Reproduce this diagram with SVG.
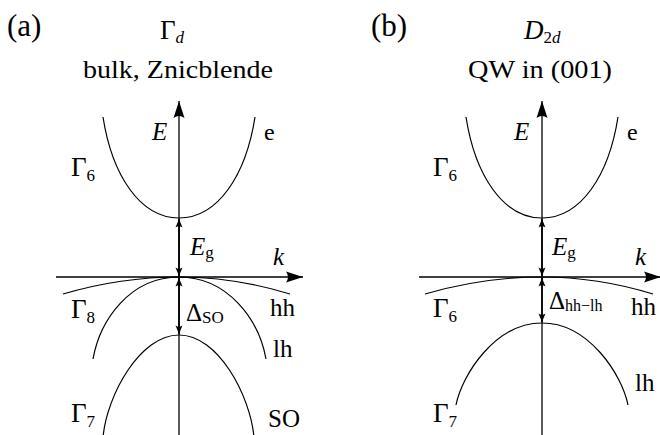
<svg xmlns="http://www.w3.org/2000/svg" width="660" height="435" viewBox="0 0 660 435" font-family="'Liberation Serif', 'Times New Roman', serif">
<style>
.ax{stroke:#000;stroke-width:1.3;fill:none}
.c{stroke:#000;stroke-width:1.2;fill:none}
.d{stroke:#000;stroke-width:1.7;fill:none}
</style>
<defs>
<marker id="big" viewBox="-18 -6 19 12" refX="0" refY="0" markerWidth="19" markerHeight="12" markerUnits="userSpaceOnUse" orient="auto">
<path d="M0,0 L-17,-5.5 Q-13,0 -17,5.5 Z" fill="#000"/>
</marker>
<marker id="sm" viewBox="-9 -4 10 8" refX="0" refY="0" markerWidth="10" markerHeight="8" markerUnits="userSpaceOnUse" orient="auto-start-reverse">
<path d="M0,0 L-8.5,-3.5 Q-6,0 -8.5,3.5 Z" fill="#000"/>
</marker>
</defs>

<g id="panel-a" font-family="'Liberation Serif', 'Times New Roman', serif" fill="#000">
<text font-size="31" x="7" y="36">(a)</text>
<text font-size="27" x="160" y="39">Γ<tspan font-size="17" font-style="italic" dy="4">d</tspan></text>
<text font-size="26" x="83" y="78" textLength="190" lengthAdjust="spacingAndGlyphs">bulk, Znicblende</text>
<g id="bands-a">
<path class="c" d="M103,117 C112,175 140,218 179,218 C218,218 246,175 255,117"/>
<path class="c" d="M63,294 Q121,277 179,277 Q234.5,277 290,294"/>
<path class="c" d="M93,359 C100,320 130,277 179,277 C228,277 259,320 266,359"/>
<path class="c" d="M103,437 C107,395 140,335 179,335 C218,335 250,395 254,437"/>
</g>
<g id="connectors-a">
<line class="ax" x1="179" y1="435" x2="179" y2="101" marker-end="url(#big)"/>
<line class="ax" x1="56" y1="277" x2="303" y2="277" marker-end="url(#big)"/>
<line class="d" x1="179" y1="219" x2="179" y2="276" marker-start="url(#sm)" marker-end="url(#sm)"/>
<line class="d" x1="179" y1="278" x2="179" y2="334" marker-start="url(#sm)" marker-end="url(#sm)"/>
</g>
<text font-size="25" font-style="italic" x="152" y="140">E</text>
<text font-size="24" x="264" y="140">e</text>
<text font-size="27" x="71" y="176">Γ<tspan font-size="17" dy="5">6</tspan></text>
<text font-size="25" font-style="italic" x="190" y="255">E<tspan font-size="17" font-style="normal" dy="3">g</tspan></text>
<text font-size="25" font-style="italic" x="273" y="265">k</text>
<text font-size="27" x="71" y="318">Γ<tspan font-size="17" dy="5">8</tspan></text>
<text font-size="25" x="186" y="321">Δ<tspan font-size="17" dy="2">SO</tspan></text>
<text font-size="25" x="270" y="316">hh</text>
<text font-size="25" x="273" y="357">lh</text>
<text font-size="27" x="71" y="422">Γ<tspan font-size="17" dy="5">7</tspan></text>
<text font-size="25" x="268" y="427">SO</text>
</g>

<g id="panel-b" font-family="'Liberation Serif', 'Times New Roman', serif" fill="#000">
<text font-size="31" x="371" y="36">(b)</text>
<text font-size="27" x="524" y="39"><tspan font-style="italic">D</tspan><tspan font-size="17" dy="4">2<tspan font-style="italic">d</tspan></tspan></text>
<text font-size="26" x="468" y="78" textLength="144" lengthAdjust="spacingAndGlyphs">QW in (001)</text>
<g id="bands-b">
<path class="c" d="M466,117 C475,175 503,218 542,218 C581,218 609,175 618,117"/>
<path class="c" d="M425,294 Q483.5,277 542,277 Q597.5,277 653,294"/>
<path class="c" d="M456,405 C462,375 495,323 542,323 C589,323 622,375 628,405"/>
</g>
<g id="connectors-b">
<line class="ax" x1="542" y1="435" x2="542" y2="101" marker-end="url(#big)"/>
<line class="ax" x1="419" y1="277" x2="661" y2="277" marker-end="url(#big)"/>
<line class="d" x1="542" y1="219" x2="542" y2="276" marker-start="url(#sm)" marker-end="url(#sm)"/>
<line class="d" x1="542" y1="278" x2="542" y2="322" marker-start="url(#sm)" marker-end="url(#sm)"/>
</g>
<text font-size="25" font-style="italic" x="514" y="140">E</text>
<text font-size="24" x="627" y="140">e</text>
<text font-size="27" x="433" y="176">Γ<tspan font-size="17" dy="5">6</tspan></text>
<text font-size="25" font-style="italic" x="552" y="255">E<tspan font-size="17" font-style="normal" dy="3">g</tspan></text>
<text font-size="25" font-style="italic" x="635" y="265">k</text>
<text font-size="27" x="433" y="317">Γ<tspan font-size="17" dy="5">6</tspan></text>
<text font-size="25" x="549" y="309">Δ<tspan font-size="16" dy="2">hh−lh</tspan></text>
<text font-size="25" x="631" y="315">hh</text>
<text font-size="25" x="635" y="391">lh</text>
<text font-size="27" x="433" y="422">Γ<tspan font-size="17" dy="5">7</tspan></text>
</g>
</svg>
